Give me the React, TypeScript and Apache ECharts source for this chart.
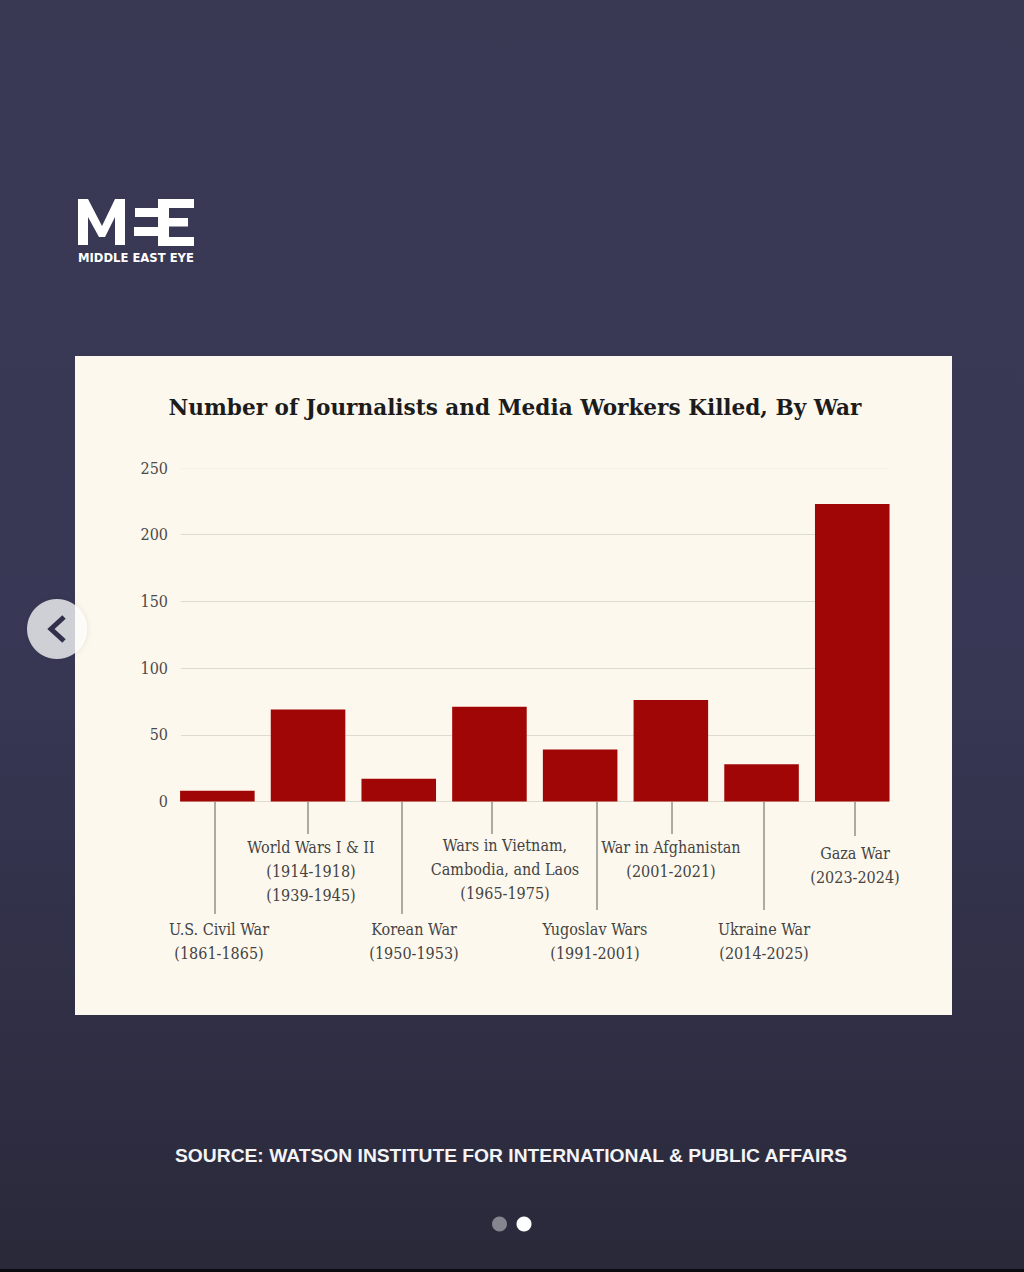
import React, { useEffect, useRef } from "react";
import * as echarts from "echarts";

const categories = ["U.S. Civil War", "World Wars I & II", "Korean War", "Wars in Vietnam, Cambodia, and Laos", "Yugoslav Wars", "War in Afghanistan", "Ukraine War", "Gaza War"];
const killed = [8, 69, 17, 71, 39, 76, 28, 223];
const yTicks = [0, 50, 100, 150, 200, 250];
const titleText = "Number of Journalists and Media Workers Killed, By War";
const sourceText = "SOURCE: WATSON INSTITUTE FOR INTERNATIONAL & PUBLIC AFFAIRS";
const annotationLabels = [
  "U.S. Civil War\n(1861-1865)",
  "World Wars I & II\n(1914-1918)\n(1939-1945)",
  "Korean War\n(1950-1953)",
  "Wars in Vietnam,\nCambodia, and Laos\n(1965-1975)",
  "Yugoslav Wars\n(1991-2001)",
  "War in Afghanistan\n(2001-2021)",
  "Ukraine War\n(2014-2025)",
  "Gaza War\n(2023-2024)",
];

const SERIF = "'DejaVu Serif Condensed', 'DejaVu Serif', serif";
const labelLayout = [
  { x: 219, y: 917, lx: 215, ly: 914 },
  { x: 311, y: 835, lx: 308, ly: 834 },
  { x: 414, y: 917, lx: 402, ly: 914 },
  { x: 505, y: 833, lx: 492, ly: 834 },
  { x: 595, y: 917, lx: 597, ly: 910 },
  { x: 671, y: 835, lx: 672, ly: 834 },
  { x: 764, y: 917, lx: 764, ly: 910 },
  { x: 855, y: 841, lx: 855, ly: 836 },
];

function buildGraphic() {
  const el: any[] = [];
  const white = { fill: "#ffffff" };
  el.push({ type: "rect", z: -10, shape: { x: 75, y: 356, width: 877, height: 659 }, style: { fill: "#fdf8ee" } });
  el.push({ type: "rect", z: -10, shape: { x: 0, y: 1269, width: 1024, height: 3 }, style: { fill: "#0b0b10" } });
  // logo
  el.push({ type: "polygon", z: 10, shape: { points: [[78, 199], [88, 199], [102, 226], [115, 199], [125, 199], [125, 245], [115, 245], [115, 217], [105, 237], [99, 237], [88, 217], [88, 245], [78, 245]] }, style: white });
  [[135, 208, 24, 9], [134, 227, 25, 9], [158, 199, 36, 9], [158, 218, 30, 8.5], [158, 237, 36, 9], [158, 199, 11, 47]].forEach(([x, y, w, h]) =>
    el.push({ type: "rect", z: 10, shape: { x, y, width: w, height: h }, style: white })
  );
  el.push({ type: "text", z: 10, x: 78, y: 258, style: { text: "MIDDLE EAST EYE", fill: "#ffffff", font: "bold 11.6px 'DejaVu Sans', sans-serif", verticalAlign: "middle", align: "left" } });
  // title & source
  el.push({ type: "text", z: 10, x: 515, y: 407, style: { text: titleText, fill: "#1c1c1c", font: "bold 21.6px 'DejaVu Serif', serif", align: "center", verticalAlign: "middle" } });
  el.push({ type: "text", z: 10, x: 511, y: 1155, style: { text: sourceText, fill: "#f4f4f6", font: "bold 19.25px 'Liberation Sans', sans-serif", align: "center", verticalAlign: "middle" } });
  // leaders & labels
  labelLayout.forEach((p, i) => {
    el.push({ type: "line", z: 10, shape: { x1: p.lx, y1: 802, x2: p.lx, y2: p.ly }, style: { stroke: "#5f5d5a", lineWidth: 1 } });
    el.push({ type: "text", z: 10, x: p.x, y: p.y, style: { text: annotationLabels[i], fill: "#444444", font: `16px ${SERIF}`, lineHeight: 24, align: "center", verticalAlign: "top" } });
  });
  // arrow button
  el.push({ type: "circle", z: 20, shape: { cx: 57, cy: 629, r: 30 }, style: { fill: "rgba(255,255,255,0.75)", shadowBlur: 6, shadowColor: "rgba(0,0,0,0.12)" } });
  el.push({ type: "polyline", z: 21, shape: { points: [[64, 617], [51, 629], [64, 641]] }, style: { stroke: "#30304a", lineWidth: 5, fill: "none" } });
  // pager
  el.push({ type: "circle", z: 10, shape: { cx: 499.5, cy: 1224, r: 7.5 }, style: { fill: "#85858f" } });
  el.push({ type: "circle", z: 10, shape: { cx: 524, cy: 1224, r: 7.5 }, style: { fill: "#ffffff" } });
  return el;
}

export default function App() {
  const ref = useRef<HTMLDivElement>(null);
  useEffect(() => {
    const chart = echarts.init(ref.current!, undefined, { renderer: "svg" });
    chart.setOption({
      animation: false,
      backgroundColor: {
        type: "linear", x: 0, y: 0, x2: 0, y2: 1,
        colorStops: [
          { offset: 0, color: "#393954" },
          { offset: 0.5, color: "#383856" },
          { offset: 1, color: "#2a293a" },
        ],
      },
      graphic: buildGraphic(),
      grid: [
        { left: 181, width: 708, top: 468, height: 333.5 },
        { left: 172, width: 725.6, top: 468, height: 333.5 },
      ],
      xAxis: [
        { gridIndex: 0, type: "category", data: categories, show: false },
        { gridIndex: 1, type: "category", data: categories, show: false },
      ],
      yAxis: [
        {
          gridIndex: 0, type: "value", min: yTicks[0], max: yTicks[yTicks.length - 1], interval: 50,
          axisLine: { show: false }, axisTick: { show: false },
          axisLabel: { color: "#4a4a4a", fontFamily: SERIF, fontSize: 16, margin: 13 },
          splitLine: { lineStyle: { color: ["#dfdbcf", "#dfdbcf", "#dfdbcf", "#dfdbcf", "#dfdbcf", "#f3efe5"], width: 1 } },
        },
        { gridIndex: 1, type: "value", min: yTicks[0], max: yTicks[yTicks.length - 1], interval: 50, show: false, splitLine: { show: false } },
      ],
      series: [
        { type: "line", xAxisIndex: 0, yAxisIndex: 0, data: [], silent: true },
        { type: "bar", xAxisIndex: 1, yAxisIndex: 1, data: killed, barCategoryGap: "17.8%", itemStyle: { color: "#a00605" } },
      ],
    });
    return () => chart.dispose();
  }, []);
  return <div ref={ref} style={{ position: "absolute", left: 0, top: 0, width: 1024, height: 1272 }} />;
}
